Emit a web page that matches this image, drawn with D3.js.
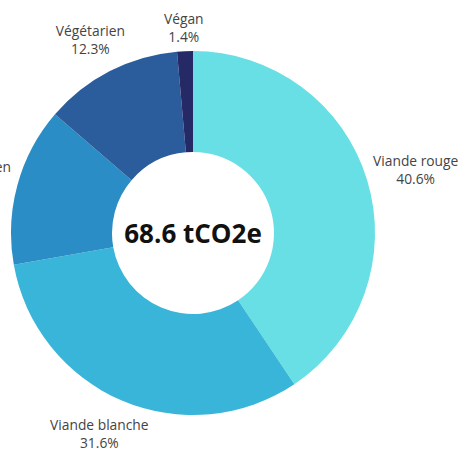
<!DOCTYPE html>
<html>
<head>
<meta charset="utf-8">
<script src="https://cdn.jsdelivr.net/npm/d3@7"></script>
<style>
html,body{margin:0;padding:0;background:#fff;overflow:hidden;}
svg{display:block;}
</style>
</head>
<body>
<svg id="chart" width="467" height="450"></svg>
<script>
const categories = ["Viande rouge", "Viande blanche", "Pescétarien", "Végétarien", "Végan"];
const shares = [40.6, 31.6, 14.1, 12.3, 1.4];
const colors = ["#67dfe5", "#3ab5da", "#2a8dc5", "#2b5c9b", "#252a66"];
const totalLabel = "68.6 tCO2e";

const W = 467, H = 450;
const cx = 193, cy = 233;
const outerR = 182, innerR = 81;

const svg = d3.select("#chart");
const g = svg.append("g").attr("transform", `translate(${cx},${cy})`);

const data = categories.map((c, i) => ({ name: c, value: shares[i], color: colors[i] }));
const pie = d3.pie().value(d => d.value).sort(null);
const arc = d3.arc().innerRadius(innerR).outerRadius(outerR);
const arcs = pie(data);

g.selectAll("path.slice").data(arcs).join("path")
  .attr("class", "slice")
  .attr("d", arc)
  .attr("fill", d => d.data.color);

// center total
g.append("text")
  .attr("text-anchor", "middle")
  .attr("dominant-baseline", "central")
  .attr("y", 0)
  .style("font-family", "'Open Sans', sans-serif")
  .style("font-weight", 700)
  .style("font-size", "26px")
  .attr("fill", "#111")
  .text(totalLabel);

// labels
const fmt = d3.format(".1f");
const rx = 190, ryTot = 218, topMargin = 9;
const labels = g.selectAll("g.lbl").data(arcs).join("g").attr("class", "lbl");
labels.each(function(d) {
  const sel = d3.select(this);
  const t = sel.append("text")
    .attr("text-anchor", "middle")
    .style("font-family", "'Open Sans', sans-serif")
    .style("font-size", "13.8px")
    .attr("fill", "#444");
  t.append("tspan").attr("x", 0).attr("dy", 0).text(d.data.name);
  t.append("tspan").attr("x", 0).attr("dy", "1.3em").text(fmt(d.data.value) + "%");
  const bb = t.node().getBBox();
  const hw = bb.width / 2;
  const a = (d.startAngle + d.endAngle) / 2;
  const s = Math.sin(a), c = -Math.cos(a);
  const x = s * (rx + hw);
  let y = c * ryTot;
  let ty = y - (bb.y + bb.height / 2);
  // keep label inside top margin
  const minTy = -cy + topMargin - bb.y;
  if (ty < minTy) ty = minTy;
  sel.attr("transform", `translate(${x},${ty})`);
});
</script>
</body>
</html>
